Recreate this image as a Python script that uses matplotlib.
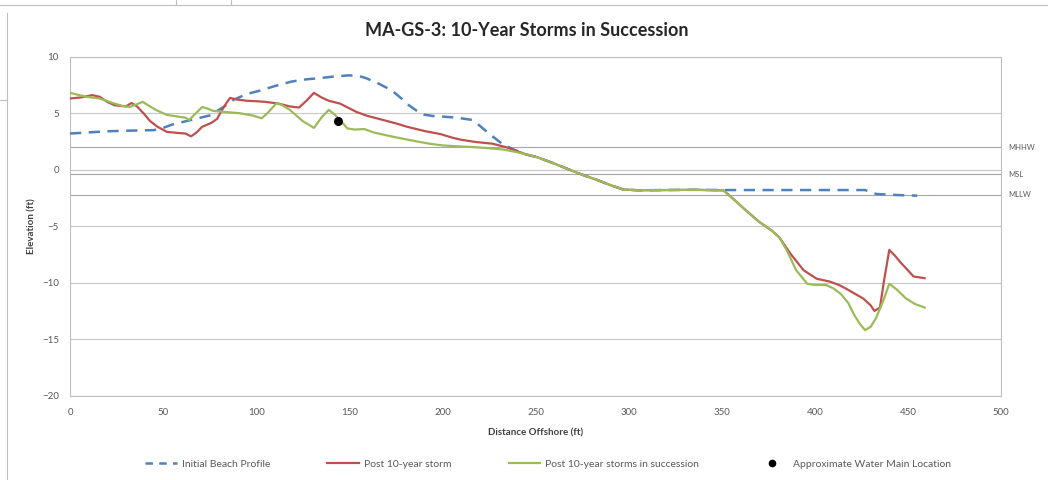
import matplotlib
matplotlib.use("Agg")
import matplotlib.pyplot as plt
from matplotlib.lines import Line2D

plt.rcParams['font.family'] = ['Lato', 'DejaVu Sans']

# ---------------- data ----------------
title = "MA-GS-3: 10-Year Storms in Succession"
x_label = "Distance Offshore (ft)"
y_label = "Elevation (ft)"

initial_x = [0, 10, 20, 30, 45, 50, 55, 65, 75, 82, 88, 95, 102, 110, 119, 127, 134, 142,
             150, 155, 159, 166, 173, 178, 182, 189, 195, 200, 208, 216, 220, 225, 232,
             238, 245, 251, 260, 269, 276, 283, 290, 297, 305, 320, 335, 351, 375, 400,
             427, 433, 445, 455]
initial_y = [3.2, 3.3, 3.4, 3.45, 3.5, 3.7, 4.0, 4.4, 4.8, 5.5, 6.2, 6.7, 7.0, 7.4, 7.8, 8.0,
             8.1, 8.25, 8.35, 8.3, 8.1, 7.6, 7.0, 6.3, 5.7, 4.9, 4.75, 4.7, 4.6, 4.4, 3.9,
             3.2, 2.3, 1.8, 1.35, 1.1, 0.55, -0.05, -0.5, -0.9, -1.35, -1.75, -1.82, -1.8,
             -1.78, -1.8, -1.8, -1.8, -1.8, -2.15, -2.25, -2.3]

storm_x = [0, 6, 12, 16, 20, 24, 30, 33, 36, 40, 43, 47, 52, 58, 62, 65, 68, 71, 76, 79,
           81, 84, 86, 90, 95, 101, 105, 112, 118, 123, 127, 131, 135, 139, 145, 154, 160,
           167, 175, 181, 191, 199, 205, 210, 218, 227, 234, 240, 245, 251, 260, 269, 276,
           283, 290, 297, 305, 320, 335, 351, 357, 363, 370, 377, 381, 387, 394, 401, 408,
           413, 417, 426, 430, 432, 435, 437, 440, 443, 446, 450, 453, 459]
storm_y = [6.3, 6.4, 6.6, 6.45, 6.0, 5.7, 5.6, 5.9, 5.6, 4.9, 4.3, 3.8, 3.35, 3.25, 3.2,
           2.95, 3.3, 3.8, 4.15, 4.5, 5.1, 5.9, 6.35, 6.2, 6.1, 6.05, 6.0, 5.85, 5.6, 5.5,
           6.1, 6.8, 6.4, 6.1, 5.85, 5.1, 4.75, 4.45, 4.1, 3.8, 3.4, 3.15, 2.85, 2.65, 2.45,
           2.3, 2.0, 1.65, 1.35, 1.1, 0.55, -0.05, -0.5, -0.9, -1.35, -1.75, -1.82, -1.8,
           -1.78, -1.83, -2.7, -3.6, -4.6, -5.4, -6.0, -7.45, -8.9, -9.65, -9.9, -10.2,
           -10.55, -11.4, -12.0, -12.5, -12.2, -10.0, -7.1, -7.6, -8.2, -8.9, -9.45, -9.6]

succ_x = [0, 5, 9, 16, 23, 28, 32, 36, 39, 43, 46, 52, 58, 62, 64, 67, 71, 74, 77, 84, 91,
          98, 103, 106, 111, 114, 118, 125, 131, 135, 139, 142, 145, 149, 153, 158, 163,
          167, 174, 181, 188, 193, 200, 208, 217, 225, 233, 240, 245, 251, 260, 269, 276,
          283, 290, 297, 305, 320, 335, 351, 357, 363, 370, 377, 381, 385, 390, 396, 400,
          406, 410, 414, 418, 421, 424, 427, 430, 433, 437, 440, 444, 449, 454, 459]
succ_y = [6.8, 6.6, 6.45, 6.3, 5.9, 5.65, 5.55, 5.8, 6.0, 5.6, 5.3, 4.85, 4.7, 4.6, 4.4,
          4.9, 5.55, 5.4, 5.2, 5.1, 5.0, 4.8, 4.55, 5.0, 5.9, 5.7, 5.3, 4.3, 3.7, 4.6, 5.3,
          4.9, 4.4, 3.65, 3.55, 3.6, 3.3, 3.15, 2.9, 2.67, 2.45, 2.3, 2.15, 2.07, 2.0, 1.9,
          1.78, 1.55, 1.35, 1.1, 0.55, -0.05, -0.5, -0.9, -1.35, -1.75, -1.82, -1.8, -1.78,
          -1.83, -2.7, -3.6, -4.6, -5.4, -6.0, -7.15, -8.9, -10.1, -10.2, -10.2, -10.5,
          -11.0, -11.8, -12.8, -13.6, -14.2, -13.9, -13.1, -11.5, -10.1, -10.6, -11.4,
          -11.9, -12.2]

water_main_x = [144]
water_main_y = [4.3]

datum_names = ["MHHW", "MSL", "MLLW"]
datum_values = [2.0, -0.4, -2.2]

x_ticks = [0, 50, 100, 150, 200, 250, 300, 350, 400, 450, 500]
y_ticks = [-20, -15, -10, -5, 0, 5, 10]

legend_labels = ["Initial Beach Profile", "Post 10-year storm",
                 "Post 10-year storms in succession", "Approximate Water Main Location"]

# ---------------- style ----------------
c_blue = "#4F81BD"
c_red = "#C0504D"
c_green = "#9BBB59"
c_grid = "#C8C8C8"
c_text = "#595959"
c_frame = "#BFBFBF"

fig = plt.figure(figsize=(10.48, 4.8), dpi=100)
fig.patch.set_facecolor("white")

def fig_line(x0, x1, y0, y1):
    fig.add_artist(Line2D([x0/1048, x1/1048], [1 - y0/480, 1 - y1/480],
                          transform=fig.transFigure, color=c_frame, lw=0.8))

# spreadsheet/chart frame remnants
fig_line(7, 7, 13, 480)
fig_line(0, 1048, 5, 5)
fig_line(176, 176, 0, 5)
fig_line(231, 231, 0, 5)
fig_line(0, 7, 100, 100)

ax = fig.add_axes([70/1048, 1 - 395.7/480, (1001 - 70)/1048, (395.7 - 56.7)/480])
ax.set_xlim(0, 500)
ax.set_ylim(-20, 10)
ax.set_xticks(x_ticks)
ax.set_yticks(y_ticks)
ax.tick_params(axis='y', length=0, labelsize=7, colors=c_text, pad=8)
ax.tick_params(axis='x', length=0, labelsize=7, colors=c_text, pad=9)
ax.grid(axis='y', color=c_grid, lw=0.8)
ax.set_axisbelow(True)
for s in ax.spines.values():
    s.set_color(c_frame)
    s.set_linewidth(0.8)

for name, val in zip(datum_names, datum_values):
    ax.axhline(val, color="#A6A6A6", lw=0.8, zorder=1)
    ax.text(1.008, val, name, transform=ax.get_yaxis_transform(), fontsize=5.5,
            color=c_text, va='center', ha='left')

ax.plot(initial_x, initial_y, color=c_blue, lw=1.8, dashes=(4.5, 3), zorder=3)
ax.plot(storm_x, storm_y, color=c_red, lw=1.6, zorder=4)
ax.plot(succ_x, succ_y, color=c_green, lw=1.6, zorder=5)
ax.plot(water_main_x, water_main_y, 'o', color='black', ms=5.5, zorder=6)

ax.set_xlabel(x_label, fontsize=7, fontweight='bold', color="#404040", labelpad=8)
ax.set_ylabel(y_label, fontsize=7, fontweight='bold', color="#404040", labelpad=4)

fig.text(0.503, 1 - 30/480, title, ha='center', va='center', fontsize=13,
         fontweight='bold', color="#262626")

handles = [Line2D([], [], color=c_blue, lw=1.8, dashes=(3, 2.5)),
           Line2D([], [], color=c_red, lw=1.6),
           Line2D([], [], color=c_green, lw=1.6),
           Line2D([], [], color='black', marker='o', ms=4.5, lw=0)]
leg = fig.legend(handles, legend_labels, loc='center', bbox_to_anchor=(0.523, 1 - 464/480),
                 ncol=4, frameon=False, fontsize=7.5, handlelength=3.0, columnspacing=5.5,
                 handletextpad=0.5)
for t in leg.get_texts():
    t.set_color(c_text)

fig.savefig("out.png", dpi=100, facecolor="white")
